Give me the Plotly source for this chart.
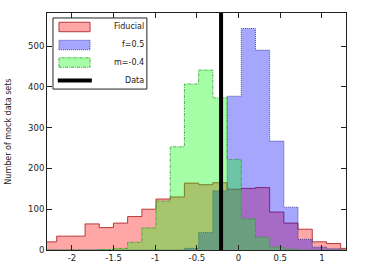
import plotly.graph_objects as go

# Bin edges (shared by all three histograms)
bin_edges = [-2.355, -2.184, -2.014, -1.843, -1.673, -1.502, -1.332, -1.161,
             -0.991, -0.820, -0.650, -0.479, -0.309, -0.138, 0.032, 0.203,
             0.373, 0.544, 0.714, 0.885, 1.055, 1.226, 1.396]

fiducial_counts = [20, 34, 34, 64, 55, 66, 82, 100, 125, 130, 164, 160, 165,
                   149, 151, 153, 93, 66, 51, 20, 16, 4]
f05_counts = [0, 0, 0, 0, 0, 0, 0, 0, 0, 0, 4, 43, 145, 377, 543, 490, 267,
              105, 26, 7, 3, 0]
m04_counts = [0, 0, 0, 0, 1, 4, 19, 54, 120, 253, 407, 441, 373, 222, 76, 31,
              7, 2, 0, 0, 0, 0]

data_value = -0.21

series_names = ["Fiducial", "f=0.5", "m=-0.4", "Data"]
x_ticks = [-2, -1.5, -1, -0.5, 0, 0.5, 1]
x_tick_labels = ["-2", "-1.5", "-1", "-0.5", "0", "0.5", "1"]
y_ticks = [0, 100, 200, 300, 400, 500]
y_title = "Number of mock data sets"


def step_xy(edges, counts):
    xs = [edges[0]] + list(edges[:-1]) + [edges[-1], edges[-1]]
    ys = [0] + list(counts) + [counts[-1], 0]
    return xs, ys


fig = go.Figure()
styles = [
    (fiducial_counts, "rgba(255,0,0,0.35)", "rgb(170,20,20)", "solid"),
    (f05_counts, "rgba(0,0,255,0.35)", "rgb(40,40,140)", "1px,1px"),
    (m04_counts, "rgba(0,255,0,0.35)", "rgb(40,160,40)", "3px,1px,1px,1px"),
]
for (counts, fc, lc, dash), name in zip(styles, series_names):
    xs, ys = step_xy(bin_edges, counts)
    fig.add_trace(go.Scatter(
        x=xs, y=ys, mode="lines",
        line=dict(shape="hv", color=lc, width=0.8, dash=dash),
        fill="tozeroy", fillcolor=fc, name=name, showlegend=False,
        hoverinfo="skip"))

fig.add_trace(go.Scatter(x=[data_value, data_value], y=[0, 581], mode="lines",
                         line=dict(color="black", width=4), name="Data",
                         showlegend=False))

# Manual legend (right-aligned labels like the original)
leg_rows = [0.941, 0.865, 0.791, 0.715]
sw_x0, sw_x1, half_h = 0.040, 0.144, 0.020
shapes = [dict(type="rect", xref="paper", yref="paper", x0=0.020, x1=0.334,
               y0=0.679, y1=0.979, line=dict(color="#222", width=1),
               fillcolor="white", layer="above")]
for (counts, fc, lc, dash), yy in zip(styles, leg_rows[:3]):
    shapes.append(dict(type="rect", xref="paper", yref="paper", x0=sw_x0,
                       x1=sw_x1, y0=yy - half_h, y1=yy + half_h, fillcolor=fc,
                       line=dict(color=lc, width=0.8, dash=dash),
                       layer="above"))
shapes.append(dict(type="line", xref="paper", yref="paper", x0=sw_x0 - 0.004,
                   x1=sw_x1 + 0.006, y0=leg_rows[3], y1=leg_rows[3],
                   line=dict(color="black", width=4), layer="above"))
annotations = [dict(xref="paper", yref="paper", x=0.331, y=yy, text=nm,
                    showarrow=False, xanchor="right", yanchor="middle",
                    font=dict(size=8, color="#222"))
               for nm, yy in zip(series_names, leg_rows)]
annotations.append(dict(xref="paper", yref="paper", x=-0.130, y=0.5,
                        text=y_title, textangle=-90, showarrow=False,
                        xanchor="center", yanchor="middle",
                        font=dict(size=8, color="#222")))

fig.update_layout(
    width=366, height=274,
    margin=dict(l=47, r=20, t=13, b=24, autoexpand=False),
    paper_bgcolor="white", plot_bgcolor="white",
    font=dict(family="DejaVu Sans", size=8, color="#222"),
    shapes=shapes, annotations=annotations,
    xaxis=dict(range=[-2.3, 1.29], tickvals=x_ticks, ticktext=x_tick_labels,
               ticks="inside", ticklen=5, tickcolor="#222", mirror="ticks",
               showline=True, linecolor="#222", linewidth=1, showgrid=False,
               zeroline=False, tickfont=dict(size=8.5), automargin=False),
    yaxis=dict(range=[0, 581], tickvals=y_ticks, ticks="inside", ticklen=5,
               tickcolor="#222", mirror="ticks", showline=True,
               linecolor="#222", linewidth=1, showgrid=False, zeroline=False,
               automargin=False, tickfont=dict(size=8.5)),
)

fig.write_html("out.html", config={"displayModeBar": False},
               post_script="document.body.style.margin='0px';"
                           "document.body.style.overflow='hidden';")
